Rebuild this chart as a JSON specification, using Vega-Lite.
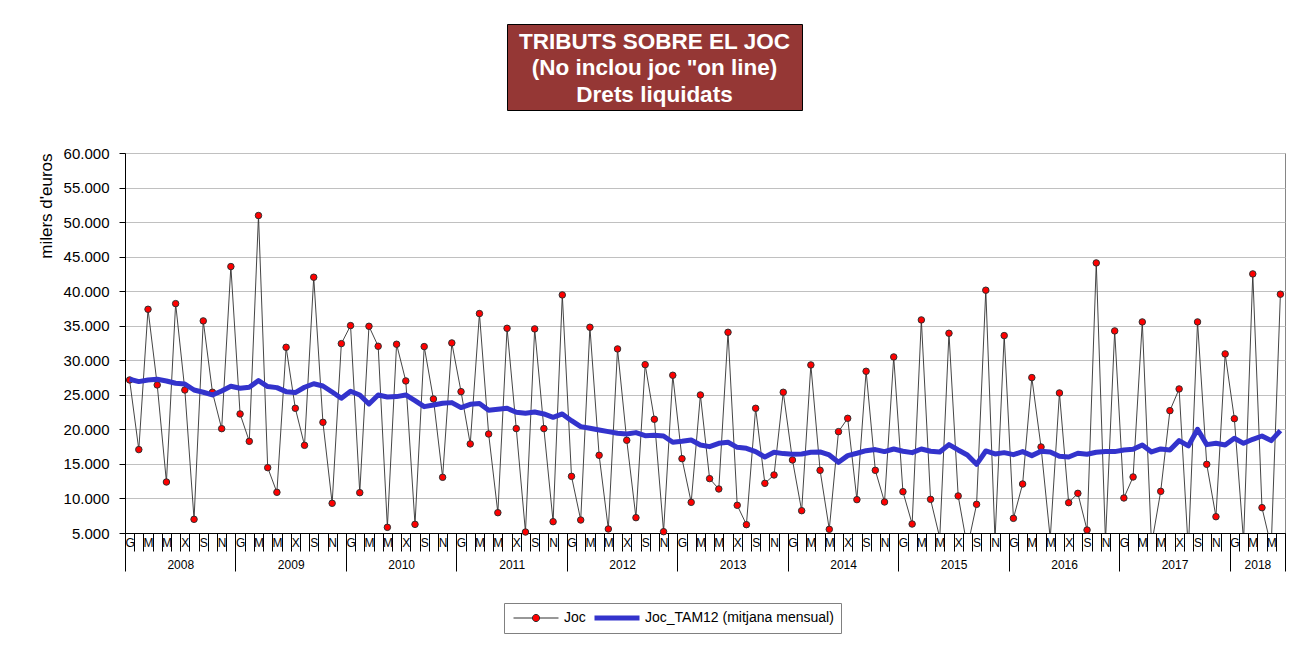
{
  "$schema": "https://vega.github.io/schema/vega-lite/v6.json",
  "background": "white",
  "padding": {"left": 36, "top": 23, "right": 2, "bottom": 2},
  "autosize": {"type": "pad"},
  "spacing": 34,
  "vconcat": [
    {
      "spacing": 10,
      "hconcat": [
        {
          "width": 371, "height": 86,
          "view": {"stroke": null},
          "data": {"values": []},
          "mark": "point"
        },
        {
          "width": 295, "height": 86,
          "view": {"fill": "#953735", "stroke": "#000000", "strokeWidth": 1},
          "data": {"values": [{"k": 1}]},
          "mark": {
            "type": "text",
            "text": ["TRIBUTS SOBRE EL JOC", "(No inclou joc \"on line)", "Drets liquidats"],
            "font": "Liberation Sans", "fontWeight": "bold", "fontSize": 22.5,
            "color": "#ffffff", "lineHeight": 26.5, "baseline": "middle", "align": "center", "dy": -25.5
          }
        }
      ]
    },
    {
      "width": 1160, "height": 380,
      "view": {"stroke": "#868686", "strokeWidth": 1},
      "data": {"values": [
        {"mes":"2008-01","Joc":27150,"Joc_TAM12":27250},{"mes":"2008-02","Joc":17070,"Joc_TAM12":26910},{"mes":"2008-03","Joc":37380,"Joc_TAM12":27150},{"mes":"2008-04","Joc":26430,"Joc_TAM12":27250},{"mes":"2008-05","Joc":12380,"Joc_TAM12":27000},{"mes":"2008-06","Joc":38200,"Joc_TAM12":26670},{"mes":"2008-07","Joc":25700,"Joc_TAM12":26570},{"mes":"2008-08","Joc":6980,"Joc_TAM12":25700},{"mes":"2008-09","Joc":35700,"Joc_TAM12":25370},{"mes":"2008-10","Joc":25370,"Joc_TAM12":24980},{"mes":"2008-11","Joc":20100,"Joc_TAM12":25560},{"mes":"2008-12","Joc":43560,"Joc_TAM12":26240},
        {"mes":"2009-01","Joc":22230,"Joc_TAM12":25950},{"mes":"2009-02","Joc":18270,"Joc_TAM12":26090},{"mes":"2009-03","Joc":50950,"Joc_TAM12":27060},{"mes":"2009-04","Joc":14460,"Joc_TAM12":26190},{"mes":"2009-05","Joc":10890,"Joc_TAM12":26040},{"mes":"2009-06","Joc":31880,"Joc_TAM12":25460},{"mes":"2009-07","Joc":23050,"Joc_TAM12":25320},{"mes":"2009-08","Joc":17690,"Joc_TAM12":26090},{"mes":"2009-09","Joc":42020,"Joc_TAM12":26600},{"mes":"2009-10","Joc":21020,"Joc_TAM12":26280},{"mes":"2009-11","Joc":9300,"Joc_TAM12":25410},{"mes":"2009-12","Joc":32410,"Joc_TAM12":24500},
        {"mes":"2010-01","Joc":35020,"Joc_TAM12":25510},{"mes":"2010-02","Joc":10840,"Joc_TAM12":24980},{"mes":"2010-03","Joc":34920,"Joc_TAM12":23680},{"mes":"2010-04","Joc":32030,"Joc_TAM12":24980},{"mes":"2010-05","Joc":5820,"Joc_TAM12":24690},{"mes":"2010-06","Joc":32320,"Joc_TAM12":24740},{"mes":"2010-07","Joc":27010,"Joc_TAM12":24980},{"mes":"2010-08","Joc":6250,"Joc_TAM12":24160},{"mes":"2010-09","Joc":31980,"Joc_TAM12":23290},{"mes":"2010-10","Joc":24400,"Joc_TAM12":23530},{"mes":"2010-11","Joc":13060,"Joc_TAM12":23770},{"mes":"2010-12","Joc":32510,"Joc_TAM12":23870},
        {"mes":"2011-01","Joc":25460,"Joc_TAM12":23150},{"mes":"2011-02","Joc":17890,"Joc_TAM12":23630},{"mes":"2011-03","Joc":36760,"Joc_TAM12":23730},{"mes":"2011-04","Joc":19330,"Joc_TAM12":22760},{"mes":"2011-05","Joc":7940,"Joc_TAM12":22900},{"mes":"2011-06","Joc":34630,"Joc_TAM12":23050},{"mes":"2011-07","Joc":20110,"Joc_TAM12":22470},{"mes":"2011-08","Joc":5140,"Joc_TAM12":22330},{"mes":"2011-09","Joc":34540,"Joc_TAM12":22520},{"mes":"2011-10","Joc":20110,"Joc_TAM12":22230},{"mes":"2011-11","Joc":6640,"Joc_TAM12":21750},{"mes":"2011-12","Joc":39460,"Joc_TAM12":22230},
        {"mes":"2012-01","Joc":13200,"Joc_TAM12":21260},{"mes":"2012-02","Joc":6880,"Joc_TAM12":20400},{"mes":"2012-03","Joc":34780,"Joc_TAM12":20150},{"mes":"2012-04","Joc":16250,"Joc_TAM12":19910},{"mes":"2012-05","Joc":5580,"Joc_TAM12":19670},{"mes":"2012-06","Joc":31640,"Joc_TAM12":19430},{"mes":"2012-07","Joc":18420,"Joc_TAM12":19330},{"mes":"2012-08","Joc":7220,"Joc_TAM12":19530},{"mes":"2012-09","Joc":29370,"Joc_TAM12":19090},{"mes":"2012-10","Joc":21460,"Joc_TAM12":19140},{"mes":"2012-11","Joc":5190,"Joc_TAM12":19040},{"mes":"2012-12","Joc":27830,"Joc_TAM12":18130},
        {"mes":"2013-01","Joc":15760,"Joc_TAM12":18270},{"mes":"2013-02","Joc":9440,"Joc_TAM12":18460},{"mes":"2013-03","Joc":24980,"Joc_TAM12":17740},{"mes":"2013-04","Joc":12870,"Joc_TAM12":17500},{"mes":"2013-05","Joc":11370,"Joc_TAM12":17980},{"mes":"2013-06","Joc":34050,"Joc_TAM12":18130},{"mes":"2013-07","Joc":9010,"Joc_TAM12":17400},{"mes":"2013-08","Joc":6210,"Joc_TAM12":17260},{"mes":"2013-09","Joc":23050,"Joc_TAM12":16780},{"mes":"2013-10","Joc":12190,"Joc_TAM12":16000},{"mes":"2013-11","Joc":13400,"Joc_TAM12":16680},{"mes":"2013-12","Joc":25370,"Joc_TAM12":16490},
        {"mes":"2014-01","Joc":15570,"Joc_TAM12":16390},{"mes":"2014-02","Joc":8230,"Joc_TAM12":16440},{"mes":"2014-03","Joc":29320,"Joc_TAM12":16680},{"mes":"2014-04","Joc":14070,"Joc_TAM12":16730},{"mes":"2014-05","Joc":5530,"Joc_TAM12":16290},{"mes":"2014-06","Joc":19670,"Joc_TAM12":15230},{"mes":"2014-07","Joc":21600,"Joc_TAM12":16200},{"mes":"2014-08","Joc":9830,"Joc_TAM12":16540},{"mes":"2014-09","Joc":28410,"Joc_TAM12":16920},{"mes":"2014-10","Joc":14070,"Joc_TAM12":17070},{"mes":"2014-11","Joc":9490,"Joc_TAM12":16780},{"mes":"2014-12","Joc":30480,"Joc_TAM12":17160},
        {"mes":"2015-01","Joc":10980,"Joc_TAM12":16830},{"mes":"2015-02","Joc":6300,"Joc_TAM12":16630},{"mes":"2015-03","Joc":35840,"Joc_TAM12":17160},{"mes":"2015-04","Joc":9870,"Joc_TAM12":16830},{"mes":"2015-05","Joc":4300,"Joc_TAM12":16730},{"mes":"2015-06","Joc":33910,"Joc_TAM12":17790},{"mes":"2015-07","Joc":10360,"Joc_TAM12":17020},{"mes":"2015-08","Joc":2900,"Joc_TAM12":16290},{"mes":"2015-09","Joc":9150,"Joc_TAM12":14940},{"mes":"2015-10","Joc":40140,"Joc_TAM12":16870},{"mes":"2015-11","Joc":4000,"Joc_TAM12":16440},{"mes":"2015-12","Joc":33570,"Joc_TAM12":16630},
        {"mes":"2016-01","Joc":7120,"Joc_TAM12":16340},{"mes":"2016-02","Joc":12090,"Joc_TAM12":16780},{"mes":"2016-03","Joc":27490,"Joc_TAM12":16200},{"mes":"2016-04","Joc":17450,"Joc_TAM12":16830},{"mes":"2016-05","Joc":4200,"Joc_TAM12":16730},{"mes":"2016-06","Joc":25270,"Joc_TAM12":16100},{"mes":"2016-07","Joc":9390,"Joc_TAM12":16000},{"mes":"2016-08","Joc":10740,"Joc_TAM12":16540},{"mes":"2016-09","Joc":5430,"Joc_TAM12":16390},{"mes":"2016-10","Joc":44090,"Joc_TAM12":16680},{"mes":"2016-11","Joc":3800,"Joc_TAM12":16780},{"mes":"2016-12","Joc":34250,"Joc_TAM12":16780},
        {"mes":"2017-01","Joc":10070,"Joc_TAM12":17020},{"mes":"2017-02","Joc":13110,"Joc_TAM12":17110},{"mes":"2017-03","Joc":35550,"Joc_TAM12":17740},{"mes":"2017-04","Joc":3300,"Joc_TAM12":16730},{"mes":"2017-05","Joc":11030,"Joc_TAM12":17160},{"mes":"2017-06","Joc":22710,"Joc_TAM12":17020},{"mes":"2017-07","Joc":25850,"Joc_TAM12":18370},{"mes":"2017-08","Joc":2500,"Joc_TAM12":17600},{"mes":"2017-09","Joc":35550,"Joc_TAM12":20010},{"mes":"2017-10","Joc":14940,"Joc_TAM12":17790},{"mes":"2017-11","Joc":7360,"Joc_TAM12":17980},{"mes":"2017-12","Joc":30920,"Joc_TAM12":17740},
        {"mes":"2018-01","Joc":21550,"Joc_TAM12":18710},{"mes":"2018-02","Joc":3800,"Joc_TAM12":17980},{"mes":"2018-03","Joc":42500,"Joc_TAM12":18560},{"mes":"2018-04","Joc":8670,"Joc_TAM12":19040},{"mes":"2018-05","Joc":3000,"Joc_TAM12":18370},{"mes":"2018-06","Joc":39560,"Joc_TAM12":19810}
      ]},
      "transform": [{"fold": ["Joc", "Joc_TAM12"], "as": ["serie", "valor"]}],
      "encoding": {
        "y": {
          "field": "valor", "type": "quantitative",
          "scale": {"domain": [5000, 60000], "nice": false, "zero": false},
          "axis": {
            "title": "milers d'euros", "titleAnchor": "end", "titleFont": "Liberation Sans", "titleFontSize": 17,
            "titleFontWeight": "normal", "titleColor": "#000000", "titlePadding": 8,
            "values": [5000, 10000, 15000, 20000, 25000, 30000, 35000, 40000, 45000, 50000, 55000, 60000],
            "labelExpr": "replace(format(datum.value, ','), ',', '.')",
            "labelFont": "Liberation Sans", "labelFontSize": 15, "labelColor": "#000000", "labelPadding": 10,
            "tickSize": 6, "tickColor": "#000000", "domainColor": "#000000", "domainWidth": 1,
            "grid": true, "gridColor": "#c0c0c0", "gridWidth": 1
          }
        }
      },
      "layer": [
        {
          "transform": [{"filter": "datum.serie == 'Joc'"}],
          "mark": {"type": "line", "strokeWidth": 0.9, "clip": true},
          "encoding": {
            "x": {
              "field": "mes", "type": "ordinal",
              "scale": {"type": "band", "paddingInner": 0, "paddingOuter": 0},
              "axis": {
                "orient": "bottom", "title": null, "tickBand": "extent", "tickOffset": 0, "grid": false,
                "labelExpr": "['G','','M','','M','','X','','S','','N',''][toNumber(substring(datum.value,5,7))-1]",
                "labelAngle": 0, "labelFont": "Liberation Sans", "labelFontSize": 12, "labelColor": "#000000",
                "labelBaseline": "top", "labelPadding": -14, "labelOverlap": false, "labelBound": false, "labelFlush": false,
                "tickSize": 18, "tickColor": "#000000", "tickWidth": 1, "domainColor": "#000000", "domainWidth": 1
              }
            },
            "color": {
              "field": "serie", "type": "nominal",
              "scale": {"domain": ["Joc", "Joc_TAM12"], "range": ["#303030", "#3333cc"]},
              "legend": {
                "orient": "none", "legendX": 379, "legendY": 579, "direction": "horizontal", "title": null,
                "labelExpr": "datum.value == 'Joc' ? 'Joc' : 'Joc_TAM12 (mitjana mensual)'",
                "labelFont": "Liberation Sans", "labelFontSize": 14, "labelColor": "#000000", "labelOffset": 3, "labelLimit": 400,
                "symbolSize": 2025, "symbolType": "stroke", "symbolStrokeWidth": 5, "clipHeight": 16,
                "strokeColor": "#808080", "fillColor": "#ffffff", "padding": 7, "columnPadding": 6,
                "encoding": {
                  "symbols": {
                    "shape": {"value": {"expr": "(datum.value == 'Joc' ? 'M-1,0H-0.16M0.16,0H1M-0.16,0A0.16,0.16 0 1,1 0.16,0A0.16,0.16 0 1,1 -0.16,0Z' : 'M-1,0H1')"}},
                    "fill": {"value": {"expr": "(datum.value == 'Joc' ? '#ff0000' : 'transparent')"}},
                    "strokeWidth": {"value": {"expr": "(datum.value == 'Joc' ? 1 : 5)"}}
                  }
                }
              }
            }
          }
        },
        {
          "transform": [{"filter": "datum.serie == 'Joc' && datum.valor >= 5000"}],
          "mark": {"type": "circle", "size": 42, "fill": "#ff0000", "stroke": "#303030", "strokeWidth": 1, "opacity": 1},
          "encoding": {
            "x": {"field": "mes", "type": "ordinal", "scale": {"type": "band", "paddingInner": 0, "paddingOuter": 0}, "axis": null}
          }
        },
        {
          "transform": [{"filter": "datum.serie == 'Joc_TAM12'"}],
          "mark": {"type": "line", "strokeWidth": 5, "strokeJoin": "round", "clip": true},
          "encoding": {
            "x": {
              "field": "mes", "type": "ordinal",
              "scale": {"type": "band", "paddingInner": 0, "paddingOuter": 0},
              "axis": {
                "orient": "bottom", "title": null, "tickBand": "extent", "tickOffset": 0, "grid": false, "domain": false,
                "labelExpr": "substring(datum.value,5,7) == '07' || datum.value == '2018-04' ? substring(datum.value,0,4) : ''",
                "labelAngle": 0, "labelFont": "Liberation Sans", "labelFontSize": 12, "labelColor": "#000000",
                "labelBaseline": "top", "labelPadding": 26, "labelOffset": -4.6,
                "labelOverlap": false, "labelBound": false, "labelFlush": false,
                "tickSize": {"condition": {"test": "datum.extra || substring(datum.value,5,7) == '12' || datum.value == '2018-06'", "value": 38}, "value": 0},
                "tickColor": "#000000", "tickWidth": 1
              }
            },
            "color": {"field": "serie", "type": "nominal", "scale": {"domain": ["Joc", "Joc_TAM12"], "range": ["#303030", "#3333cc"]}}
          }
        }
      ],
      "resolve": {"axis": {"x": "independent"}}
    }
  ]
}
